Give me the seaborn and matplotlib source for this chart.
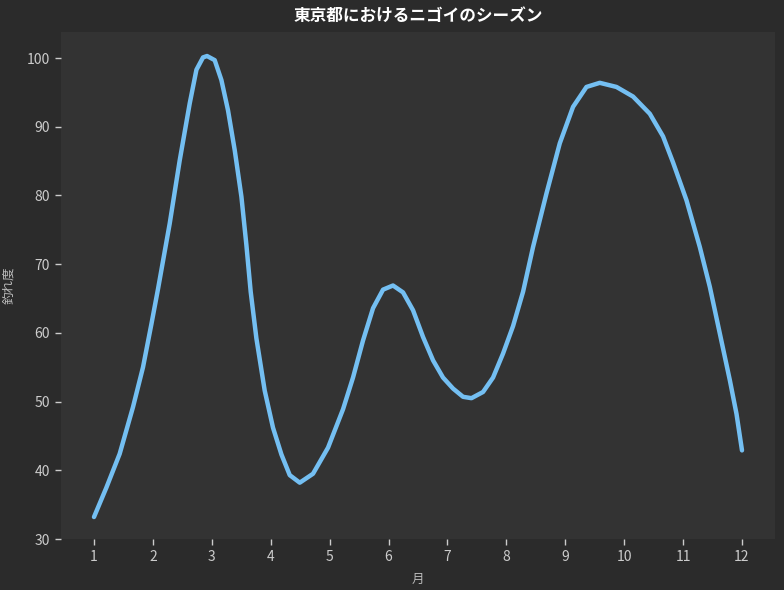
import matplotlib
matplotlib.use("Agg")
import matplotlib.pyplot as plt
import seaborn as sns
import pandas as pd

# Curve (month, catch index)
month = [1.0, 1.211, 1.436, 1.662, 1.832, 1.975, 2.087, 2.285, 2.455, 2.625,
         2.739, 2.851, 2.919, 3.049, 3.163, 3.275, 3.389, 3.503, 3.587, 3.660,
         3.757, 3.898, 4.039, 4.182, 4.323, 4.493, 4.718, 4.973, 5.228, 5.397,
         5.567, 5.737, 5.907, 6.076, 6.246, 6.416, 6.586, 6.756, 6.925, 7.095,
         7.265, 7.408, 7.604, 7.774, 7.944, 8.114, 8.284, 8.453, 8.681, 8.907,
         9.132, 9.360, 9.586, 9.869, 10.151, 10.435, 10.660, 10.830, 11.058, 11.284,
         11.454, 11.624, 11.794, 11.907, 12.0]
score = [33.2, 37.5, 42.4, 49.2, 55.0, 61.3, 66.4, 75.9, 85.1, 93.4,
         98.3, 100.1, 100.3, 99.7, 96.8, 92.4, 86.6, 79.8, 72.8, 66.0,
         59.2, 51.6, 46.2, 42.3, 39.3, 38.2, 39.5, 43.3, 48.9, 53.5,
         58.9, 63.6, 66.3, 66.9, 65.9, 63.3, 59.4, 56.0, 53.5, 51.9,
         50.7, 50.5, 51.4, 53.5, 57.0, 61.0, 66.0, 72.5, 80.3, 87.6,
         92.9, 95.8, 96.4, 95.8, 94.4, 91.9, 88.6, 84.8, 79.3, 72.5,
         66.7, 59.9, 53.1, 48.2, 42.9]
month_ticks = list(range(1, 13))
y_ticks = [30, 40, 50, 60, 70, 80, 90, 100]

title = "東京都におけるニゴイのシーズン"
xlabel = "月"
ylabel = "釣れ度"

sns.set_theme(style="dark")
plt.rcParams['font.family'] = ['Noto Sans CJK JP', 'DejaVu Sans']

fig = plt.figure(figsize=(7.84, 5.90), dpi=100, facecolor="#2b2b2b")
ax = fig.add_axes([0.0778, 0.0864, 0.9107, 0.8594])
ax.set_facecolor("#333333")

df = pd.DataFrame({"month": month, "score": score})
sns.lineplot(data=df, x="month", y="score", ax=ax, color="#74BFF2", linewidth=3.2,
             sort=False, estimator=None, solid_joinstyle="round")

ax.set_xlim(0.44, 12.56)
ax.set_ylim(30, 103.8)
ax.set_xticks(month_ticks)
ax.set_yticks(y_ticks)
for s in ax.spines.values():
    s.set_visible(False)
ax.grid(False)
ax.tick_params(axis="both", colors="#cccccc", labelcolor="#cccccc", labelsize=10,
               length=4, width=1, direction="out", bottom=True, left=True, pad=4)
ax.set_title(title, color="white", fontsize=12, fontweight="bold", pad=8)
ax.set_xlabel(xlabel, color="#bbbbbb", fontsize=9, labelpad=6)
ax.set_ylabel(ylabel, color="#bbbbbb", fontsize=9, labelpad=8)

fig.savefig("out.png", dpi=100, facecolor=fig.get_facecolor())
